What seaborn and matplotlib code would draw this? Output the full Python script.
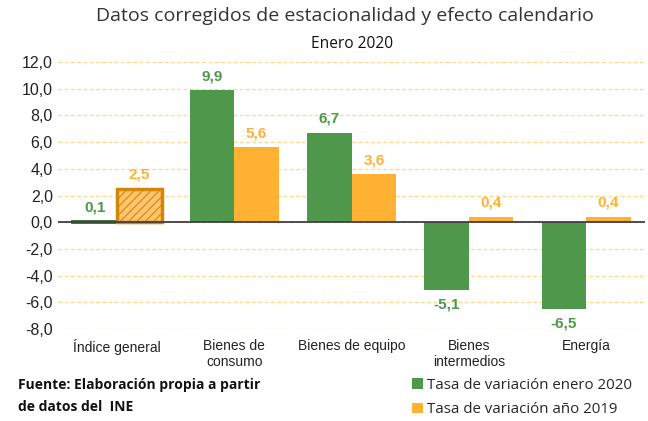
import numpy as np
import pandas as pd
import matplotlib
matplotlib.use("Agg")
import matplotlib.pyplot as plt
import seaborn as sns
from matplotlib.patches import Patch

# data
categories = ["Índice general", "Bienes de\nconsumo", "Bienes de equipo",
              "Bienes\nintermedios", "Energía"]
tasa_enero_2020 = [0.1, 9.9, 6.7, -5.1, -6.5]
tasa_anio_2019 = [2.5, 5.6, 3.6, 0.4, 0.4]
series_names = ["Tasa de variación enero 2020", "Tasa de variación año 2019"]

green = "#4F974A"
orange = "#FFB134"

df = pd.DataFrame({
    "categoria": categories * 2,
    "valor": tasa_enero_2020 + tasa_anio_2019,
    "serie": [series_names[0]] * 5 + [series_names[1]] * 5,
})

sns.set_style("white")
plt.rcParams["font.family"] = ["Liberation Sans", "DejaVu Sans"]
plt.rcParams["hatch.color"] = "#F5A83A"
plt.rcParams["hatch.linewidth"] = 0.8

fig = plt.figure(figsize=(6.48, 4.21), dpi=100)
ax = fig.add_axes([0.09, 0.218, 0.905, 0.635])

sns.barplot(data=df, x="categoria", y="valor", hue="serie",
            palette=[green, orange], width=0.76, saturation=1,
            ax=ax, legend=False, zorder=3, linewidth=0)

ax.set_ylim(-8, 12)
ax.set_yticks(np.arange(-8, 12.1, 2))
ax.set_yticklabels([f"{v:.1f}".replace(".", ",") for v in np.arange(-8, 12.1, 2)],
                   fontsize=11.5, color="#222222")
ax.tick_params(axis="x", labelsize=10, colors="#222222", length=0, pad=7)
ax.tick_params(axis="y", length=0, pad=4)
ax.set_xlabel("")
ax.set_ylabel("")
ax.set_xlim(-0.5, 4.5)
for s in ax.spines.values():
    s.set_visible(False)

ax.yaxis.grid(True, color="#FFD68A", linestyle=(0, (3, 2)), linewidth=0.9, zorder=0)
ax.axhline(0, color="#404040", linewidth=1.3, zorder=5)

# highlight first group
patches = ax.patches
p_g = patches[0]
p_o = patches[5]
p_g.set_edgecolor("#2E6B2A")
p_g.set_linewidth(2)
p_o.set_facecolor("#FFC46E")
p_o.set_edgecolor("#D4860A")
p_o.set_linewidth(2.5)
p_o.set_hatch("////")

# value labels
for i, (g, o) in enumerate(zip(tasa_enero_2020, tasa_anio_2019)):
    for val, patch, col in ((g, patches[i], green), (o, patches[5 + i], orange)):
        x = patch.get_x() + patch.get_width() / 2
        off = 5 if val >= 0 else -5
        ax.annotate(f"{val:.1f}".replace(".", ","), (x, val),
                    xytext=(0, off), textcoords="offset points",
                    ha="center", va="bottom" if val >= 0 else "top",
                    fontsize=11, fontweight="bold", color=col, zorder=6)

fig.text(0.532, 0.962, "Datos corregidos de estacionalidad y efecto calendario",
         ha="center", va="center", fontsize=14, family=["Open Sans", "DejaVu Sans"],
         color="#333333")
fig.text(0.543, 0.895, "Enero 2020", ha="center", va="center", fontsize=11.2,
         family=["Open Sans", "DejaVu Sans"], color="#111111")

fig.text(0.028, 0.06, "Fuente: Elaboración propia a partir\nde datos del  INE",
         ha="left", va="center", fontsize=10, fontweight="bold",
         family=["Open Sans", "DejaVu Sans"], linespacing=1.75, color="#111111")

handles = [Patch(facecolor=green, edgecolor="none"), Patch(facecolor=orange, edgecolor="none")]
fig.legend(handles, series_names, loc="center left", bbox_to_anchor=(0.615, 0.056),
           frameon=False, handlelength=0.7, handleheight=0.7,
           handletextpad=0.3, labelspacing=0.65, prop={"family": ["Open Sans", "DejaVu Sans"], "size": 10.8})

fig.savefig("out.png", dpi=100)
